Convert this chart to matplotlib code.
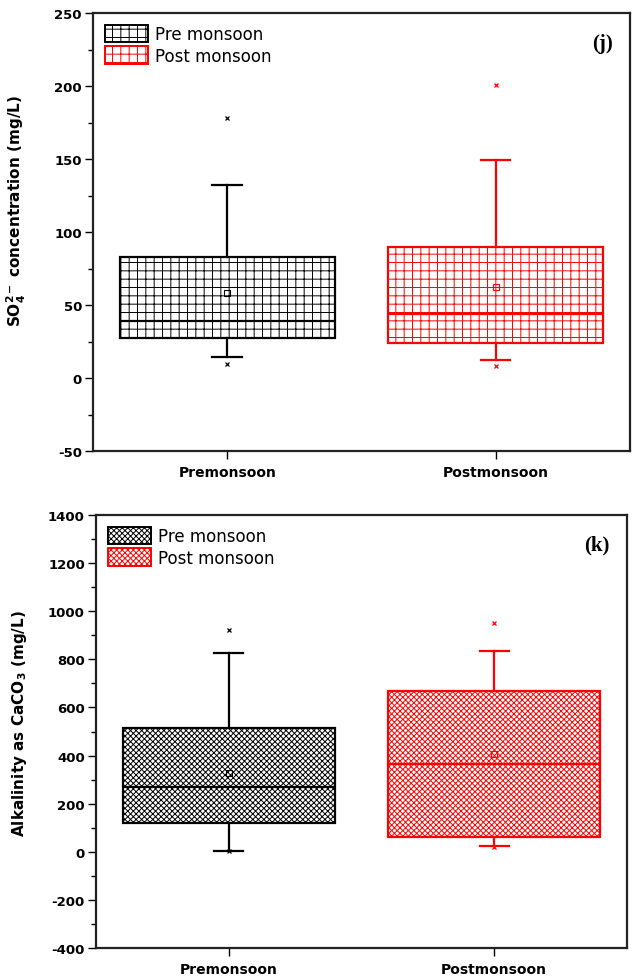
import matplotlib
matplotlib.use("Agg")
import matplotlib.pyplot as plt
from matplotlib.patches import Patch

categories = ["Premonsoon", "Postmonsoon"]
series_labels = ["Pre monsoon", "Post monsoon"]
colors = ["black", "red"]

# Panel (j): SO4 concentration (mg/L)
so4_q1 = [27.5, 24.0]
so4_med = [39.0, 44.0]
so4_q3 = [83.0, 89.5]
so4_whislo = [14.5, 12.5]
so4_whishi = [132.0, 149.5]
so4_mean = [58.5, 62.0]
so4_fliers = [[178.0, 9.5], [201.0, 8.5]]

# Panel (k): Alkalinity as CaCO3 (mg/L)
alk_q1 = [118.0, 63.0]
alk_med = [269.0, 366.0]
alk_q3 = [516.0, 667.0]
alk_whislo = [2.0, 23.0]
alk_whishi = [826.0, 836.0]
alk_mean = [329.0, 405.0]
alk_fliers = [[923.0, 2.0], [951.0, 18.0]]

plt.rcParams['font.family'] = ['DejaVu Sans']
plt.rcParams['hatch.linewidth'] = 0.7
plt.rcParams['mathtext.fontset'] = 'dejavusans'

fig = plt.figure(figsize=(6.33, 9.79), dpi=100)
ax1 = fig.add_axes([0.147, 0.5383, 0.848, 0.4474])
ax2 = fig.add_axes([0.1517, 0.0306, 0.8388, 0.4423])

def draw(ax, q1, med, q3, lo, hi, mean, fliers, hatch, leg_hatch, ylim, major, minor,
         ylabel, label_x, label_y, letter):
    for i in range(2):
        st = dict(med=med[i], q1=q1[i], q3=q3[i], whislo=lo[i], whishi=hi[i],
                  mean=mean[i], fliers=fliers[i])
        c = colors[i]
        ax.bxp([st], positions=[i + 1], widths=0.8, patch_artist=True,
               showmeans=True, capwidths=[0.11],
               boxprops=dict(facecolor='white', edgecolor=c, linewidth=1.6, hatch=hatch),
               medianprops=dict(color=c, linewidth=1.6),
               whiskerprops=dict(color=c, linewidth=1.6),
               capprops=dict(color=c, linewidth=1.6),
               meanprops=dict(marker='s', markerfacecolor='none', markeredgecolor=c,
                              markersize=4, markeredgewidth=0.8),
               flierprops=dict(marker='x', markeredgecolor=c, markersize=3.5,
                               markeredgewidth=0.9))
    ax.set_xlim(0.5, 2.5)
    ax.set_ylim(*ylim)
    ax.set_xticks([1, 2])
    ax.set_xticklabels(categories, fontsize=10, fontweight='bold')
    ax.set_yticks(major)
    ax.set_yticks(minor, minor=True)
    ax.set_yticklabels([str(v) for v in major], fontsize=9.5, fontweight='bold')
    ax.tick_params(axis='y', which='major', direction='out', length=6, width=1.0, pad=2)
    ax.tick_params(axis='y', which='minor', direction='out', length=3.5, width=1.0)
    ax.tick_params(axis='x', which='major', direction='out', length=6, width=1.0, pad=4)
    ax.tick_params(top=False, right=False)
    for s in ax.spines.values():
        s.set_linewidth(1.6)
        s.set_color('#222222')
    ax.set_ylabel(ylabel, fontsize=11, fontweight='bold')
    ax.yaxis.set_label_coords(label_x, label_y)
    handles = [Patch(facecolor='white', edgecolor=colors[i], hatch=leg_hatch, linewidth=1.4,
                     label=series_labels[i]) for i in range(2)]
    ax.legend(handles=handles, loc='upper left', frameon=False,
              prop=dict(family='DejaVu Sans', size=12),
              handlelength=2.6, handleheight=1.25, handletextpad=0.4,
              labelspacing=0.2, borderaxespad=0.3, bbox_to_anchor=(0.0, 1.0))
    ax.text(0.968, 0.955, letter, transform=ax.transAxes, ha='right', va='top',
            fontsize=15, fontweight='bold', family='Liberation Serif')

draw(ax1, so4_q1, so4_med, so4_q3, so4_whislo, so4_whishi, so4_mean, so4_fliers,
     '++', '++', (-50, 250), list(range(-50, 251, 50)), list(range(-25, 250, 50)),
     r'SO$_\mathbf{4}^\mathbf{2-}$ concentration (mg/L)', -0.122, 0.55, '(j)')
draw(ax2, alk_q1, alk_med, alk_q3, alk_whislo, alk_whishi, alk_mean, alk_fliers,
     'xxxxxx', 'xxxxxx', (-400, 1400), list(range(-400, 1401, 200)), list(range(-300, 1400, 200)),
     r'Alkalinity as CaCO$_\mathbf{3}$ (mg/L)', -0.126, 0.52, '(k)')

fig.savefig('out.png', dpi=100)
